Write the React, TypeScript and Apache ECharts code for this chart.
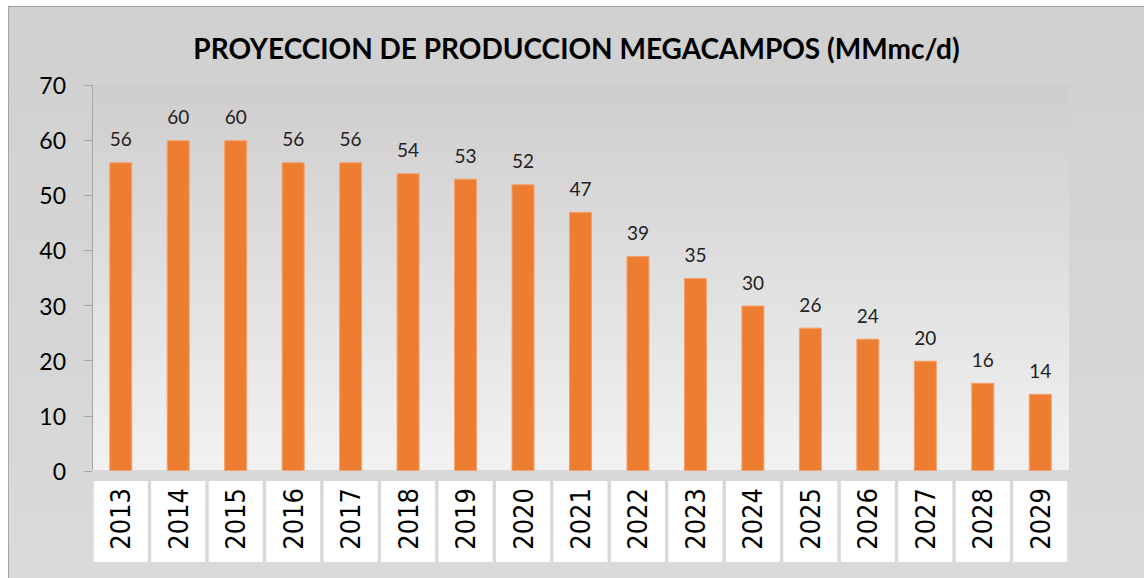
import React, { useEffect, useRef } from "react";
import * as echarts from "echarts";

const TITLE = "PROYECCION DE PRODUCCION MEGACAMPOS (MMmc/d)";
const YEARS = ["2013","2014","2015","2016","2017","2018","2019","2020","2021","2022","2023","2024","2025","2026","2027","2028","2029"];
const PRODUCTION = [56, 60, 60, 56, 56, 54, 53, 52, 47, 39, 35, 30, 26, 24, 20, 16, 14];
const Y_MIN = 0;
const Y_MAX = 70;
const Y_STEP = 10;

export default function App() {
  const ref = useRef<HTMLDivElement>(null);
  useEffect(() => {
    if (!ref.current) return;
    const chart = echarts.init(ref.current, null, { renderer: "svg" });
    chart.setOption({
      animation: false,
      backgroundColor: new echarts.graphic.LinearGradient(0, 0, 0, 1, [
        { offset: 0, color: "#d0d0d0" },
        { offset: 1, color: "#dadada" },
      ]),
      title: {
        text: TITLE,
        left: "center",
        top: 22,
        textStyle: { fontFamily: "Lato", fontWeight: "bold", fontSize: 28, color: "#000" },
      },
      grid: {
        left: 83,
        right: 75,
        top: 78,
        bottom: 107,
        show: true,
        borderWidth: 0,
        backgroundColor: new echarts.graphic.LinearGradient(0, 0, 0, 1, [
          { offset: 0, color: "#cfcdce" },
          { offset: 1, color: "#f2f2f2" },
        ]),
      },
      xAxis: {
        type: "category",
        data: YEARS,
        axisLine: { show: true, lineStyle: { color: "#d9d9d9", width: 2 } },
        axisTick: { show: false },
        axisLabel: {
          rotate: 90,
          margin: 10,
          interval: 0,
          fontFamily: "Liberation Sans Narrow, DejaVu Sans Condensed, Liberation Sans, sans-serif",
          fontSize: 27,
          color: "#000",
          backgroundColor: "#ffffff",
          width: 74,
          height: 54,
          padding: [0, 7, 0, 0],
          align: "right",
          verticalAlign: "middle",
        },
      },
      yAxis: {
        type: "value",
        min: Y_MIN,
        max: Y_MAX,
        interval: Y_STEP,
        splitLine: { show: false },
        axisLine: { show: true, lineStyle: { color: "#a6a6a6", width: 1 } },
        axisTick: { show: true, length: 8, lineStyle: { color: "#a6a6a6" } },
        axisLabel: { margin: 26, fontFamily: "Lato", fontSize: 23, color: "#000" },
      },
      series: [
        {
          type: "bar",
          data: PRODUCTION,
          barWidth: 23,
          itemStyle: { color: "#ed7d31", borderColor: "#f4a26b", borderWidth: 1 },
          label: {
            show: true,
            position: "top",
            distance: 14,
            fontFamily: "Lato",
            fontSize: 19,
            color: "#222",
          },
        },
      ],
    });
    return () => chart.dispose();
  }, []);
  return (
    <div
      ref={ref}
      style={{
        position: "absolute",
        left: 8,
        top: 6,
        width: 1136,
        height: 572,
        borderLeft: "1px solid #a6a6a6",
        borderTop: "1px solid #a6a6a6",
        boxSizing: "border-box",
      }}
    />
  );
}
